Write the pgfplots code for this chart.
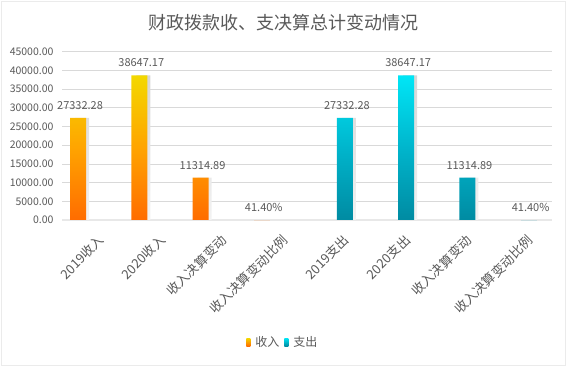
\documentclass[border=0pt]{standalone}
\usepackage{fontspec}
\setmainfont{Noto Sans CJK SC}
\usepackage{pgfplots}
\pgfplotsset{compat=1.18}
\definecolor{txt}{HTML}{595959}
\definecolor{gridc}{HTML}{D9D9D9}
\definecolor{ortop}{HTML}{F3D800}
\definecolor{ormid}{HTML}{FFA400}
\definecolor{orbot}{HTML}{FF6C00}
\definecolor{tetop}{HTML}{00E6F6}
\definecolor{temid}{HTML}{00B5CC}
\definecolor{tebot}{HTML}{008BA2}
\begin{document}
\begin{tikzpicture}
\useasboundingbox (0pt,0pt) rectangle (567pt,372pt);
\draw[black!8, line width=0.8pt] (1pt,7pt) rectangle (565.5pt,371pt);
\node[font=\fontsize{18}{20}\selectfont, text=txt] at (283pt,349pt) {财政拨款收、支决算总计变动情况};
\begin{axis}[
  at={(62pt,152pt)}, anchor=south west,
  scale only axis, width=490pt, height=168.3pt,
  xmin=-0.5, xmax=7.5, ymin=0, ymax=45000,
  ytick={0,5000,...,45000},
  xtick={0,...,7},
  xticklabels={2019收入,2020收入,收入决算变动,收入决算变动比例,2019支出,2020支出,收入决算变动,收入决算变动比例},
  xticklabel style={rotate=45, anchor=east, font=\fontsize{13}{14}\selectfont, text=txt, yshift=-19pt, xshift=-2.8pt},
  yticklabel style={font=\fontsize{10.5}{12}\selectfont, text=txt, xshift=-5pt},
  /pgf/number format/assume math mode=true,
  /pgf/number format/fixed,
  /pgf/number format/fixed zerofill,
  /pgf/number format/precision=2,
  /pgf/number format/1000 sep={},
  scaled y ticks=false,
  major tick length=0pt,
  axis x line*=bottom, axis y line*=left,
  y axis line style={draw=none},
  x axis line style={draw=black!9, line width=1.5pt, -},
  ymajorgrids, grid style={gridc, line width=0.6pt},
  clip=false,
  legend style={at={(axis description cs:0.451,-0.725)}, anchor=center, draw=none, fill=none,
    legend columns=2, font=\fontsize{12}{13}\selectfont, text=txt,
    /tikz/every odd column/.append style={column sep=3pt},
    /tikz/every even column/.append style={column sep=3pt}},
  legend cell align=left,
]
% shadows
\addplot[ybar, bar width=14pt, bar shift=4pt, draw=none, top color=black!16, bottom color=black!5, forget plot]
  coordinates {(-0.238,27332.28) (0.762,38647.17) (1.762,11314.89)};
\addplot[ybar, bar width=14pt, bar shift=4pt, draw=none, top color=black!16, bottom color=black!5, forget plot]
  coordinates {(4.119,27332.28) (5.119,38647.17) (6.119,11314.89)};
% main bars
\addplot[ybar, bar width=16pt, bar shift=0pt, draw=none, top color=ortop, bottom color=orbot, middle color=ormid,
  nodes near coords, every node near coord/.append style={font=\fontsize{11}{12}\selectfont, text=txt, yshift=5pt, xshift=2pt},
  legend image code/.code={\shade[top color=ortop, bottom color=orbot] (0pt,-4pt) rectangle (4pt,4pt);}]
  coordinates {(-0.238,27332.28) (0.762,38647.17) (1.762,11314.89)};
\addlegendentry{收入}
\addplot[ybar, bar width=16pt, bar shift=0pt, draw=none, top color=tetop, bottom color=tebot, middle color=temid,
  nodes near coords, every node near coord/.append style={font=\fontsize{11}{12}\selectfont, text=txt, yshift=5pt, xshift=2pt},
  legend image code/.code={\shade[top color=tetop, bottom color=tebot] (0pt,-4pt) rectangle (4pt,4pt);}]
  coordinates {(4.119,27332.28) (5.119,38647.17) (6.119,11314.89)};
\addlegendentry{支出}
% ratio bars
\addplot[ybar, bar width=16pt, bar shift=0pt, draw=none, fill=orbot, forget plot,
  nodes near coords={41.40\%}, every node near coord/.append style={font=\fontsize{11}{12}\selectfont, text=txt, yshift=5pt, xshift=2pt}]
  coordinates {(2.762,0.414)};
\addplot[ybar, bar width=16pt, bar shift=0pt, draw=none, fill=tebot, forget plot,
  nodes near coords={41.40\%}, every node near coord/.append style={font=\fontsize{11}{12}\selectfont, text=txt, yshift=5pt, xshift=2pt}]
  coordinates {(7.119,0.414)};
\end{axis}
\end{tikzpicture}
\end{document}
